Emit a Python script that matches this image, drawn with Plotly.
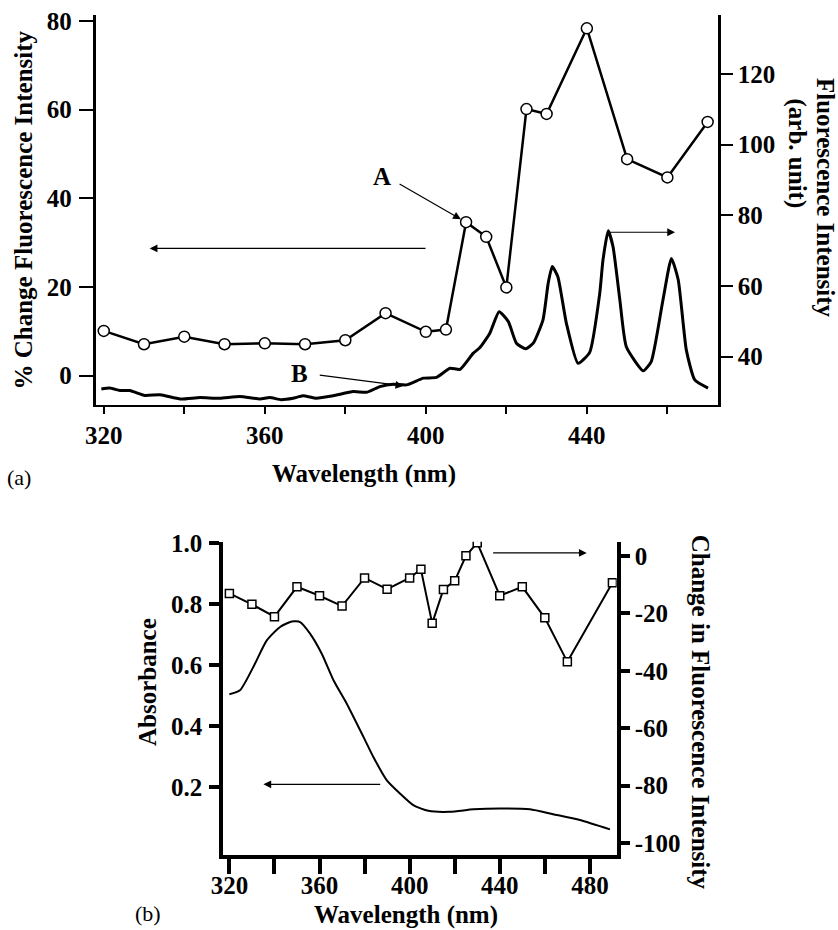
import plotly.graph_objects as go

# ---------------- data: panel (a) ----------------
a_wavelength = [320, 330, 340, 350, 360, 370, 380, 390, 400, 405, 410, 415, 420, 425, 430, 440, 450, 460, 470]
a_pct_change = [10.1, 7.1, 8.8, 7.1, 7.3, 7.1, 8.0, 14.1, 9.9, 10.4, 34.6, 31.3, 19.9, 60.1, 59.0, 78.3, 48.8, 44.7, 57.2]

b_wavelength = [319.4, 321.5, 324, 326.5, 330.2, 334, 339, 343.9, 348.8, 353.8, 358.8, 361.2, 364.1, 367,
                369.5, 372.8, 377, 382, 385.3, 388.6, 391.9, 395.2, 399.4, 402.6, 406, 408.5, 411.8, 413.4,
                415.9, 418.2, 420.5, 422.5, 424.8, 426.7, 429.1, 430.4, 431.4, 432.8, 434.9, 437.8, 440.7,
                443.2, 444.0, 445.3, 446.5, 448.2, 449.8, 454, 456, 458.9, 461, 462.7, 464.7, 466.8, 470.1]
b_fluor = [30.8, 31.1, 30.4, 30.4, 29.0, 29.2, 28.0, 28.4, 28.2, 28.7, 28.0, 28.4, 27.8, 28.2,
           28.9, 28.2, 28.9, 30.1, 29.9, 31.5, 32.2, 32.0, 33.9, 34.1, 36.7, 36.4, 41.0, 42.5,
           46.6, 52.7, 49.9, 43.8, 42.2, 43.8, 50.4, 60.8, 65.5, 62.6, 49.5, 38.1, 41.2,
           57.9, 67.3, 75.6, 71.1, 56.0, 42.8, 36.0, 38.6, 56.0, 67.8, 61.7, 41.9, 33.4, 31.1]

a_xticks = [320, 340, 360, 380, 400, 420, 440, 460]
a_xticklabels = ["320", "", "360", "", "400", "", "440", ""]
a_left_ticks = [0, 20, 40, 60, 80]
a_right_ticks = [40, 60, 80, 100, 120]

# ---------------- data: panel (b) ----------------
sq_wavelength = [320, 330, 340, 350, 360, 370, 380, 390, 400, 405, 410, 415, 420, 425, 430, 440, 450, 460, 470, 490]
sq_change = [-13.1, -16.9, -21.2, -10.8, -13.9, -17.5, -7.7, -11.6, -7.7, -4.7, -23.5, -11.7, -8.7, 0.0, 4.5,
             -13.9, -10.8, -21.6, -36.9, -9.4]

abs_wavelength = [320, 324.7, 330.6, 336.6, 342.5, 347.7, 351.4, 355.8, 361, 366.2, 372.1, 379.5, 383.9,
                  389.8, 395.7, 401.6, 408.3, 417.9, 428.3, 440, 453.4, 463.7, 475.6, 488.9]
absorbance = [0.504, 0.517, 0.593, 0.681, 0.725, 0.743, 0.741, 0.703, 0.637, 0.55, 0.473, 0.364, 0.298,
              0.222, 0.178, 0.140, 0.121, 0.118, 0.126, 0.129, 0.126, 0.110, 0.091, 0.060]

b_xticks = [320, 340, 360, 380, 400, 420, 440, 460, 480]
b_xticklabels = ["320", "", "360", "", "400", "", "440", "", "480"]
b_left_ticks = [0.2, 0.4, 0.6, 0.8, 1.0]
b_left_ticklabels = ["0.2", "0.4", "0.6", "0.8", "1.0"]
b_right_ticks = [-100, -80, -60, -40, -20, 0]
b_right_ticklabels = ["-100", "-80", "-60", "-40", "-20", "0"]

W, H = 838, 930
FONT = "Liberation Serif"


def px(x):
    return x / W


def py(y):
    return 1 - y / H


tickfont = dict(family=FONT, size=25, color="black", weight="bold")

fig = go.Figure()

# panel (a)
fig.add_trace(go.Scatter(x=a_wavelength, y=a_pct_change, mode="lines+markers",
                         line=dict(color="black", width=2.5),
                         marker=dict(symbol="circle", size=11, color="white",
                                     line=dict(color="black", width=1.5)),
                         xaxis="x", yaxis="y", showlegend=False))
fig.add_trace(go.Scatter(x=b_wavelength, y=b_fluor, mode="lines",
                         line=dict(color="black", width=3, shape="spline", smoothing=0.5),
                         xaxis="x", yaxis="y2", showlegend=False))

# panel (b)
fig.add_trace(go.Scatter(x=abs_wavelength, y=absorbance, mode="lines",
                         line=dict(color="black", width=2, shape="spline", smoothing=0.6),
                         xaxis="x2", yaxis="y3", showlegend=False))
fig.add_trace(go.Scatter(x=sq_wavelength, y=sq_change, mode="lines+markers",
                         line=dict(color="black", width=2),
                         marker=dict(symbol="square", size=8, color="white",
                                     line=dict(color="black", width=1.5)),
                         xaxis="x2", yaxis="y4", showlegend=False))

axis_common = dict(showgrid=False, zeroline=False, showline=True, linecolor="black",
                   ticks="outside", tickcolor="black", tickfont=tickfont, automargin=False)

fig.update_layout(
    width=W, height=H,
    margin=dict(l=0, r=0, t=0, b=0, autoexpand=False),
    paper_bgcolor="white", plot_bgcolor="white",
    xaxis=dict(domain=[px(95.7), px(717.7)], anchor="y", range=[318, 472.5],
               tickmode="array", tickvals=a_xticks, ticktext=a_xticklabels,
               ticklen=7, tickwidth=1.5, linewidth=2, ticklabelstandoff=0, **axis_common),
    yaxis=dict(domain=[py(405), py(15)], anchor="x", range=[-6.6, 81.3],
               tickmode="array", tickvals=a_left_ticks,
               ticklen=14, tickwidth=1.5, linewidth=3, ticklabelstandoff=2, **axis_common),
    yaxis2=dict(domain=[py(405), py(15)], anchor="x", overlaying="y", side="right",
                range=[26.3, 136.7], tickmode="array", tickvals=a_right_ticks,
                ticklen=12, tickwidth=2, linewidth=3, ticklabelstandoff=0, **axis_common),
    xaxis2=dict(domain=[px(223.3), px(616.7)], anchor="y3", range=[317.3, 491.9],
                tickmode="array", tickvals=b_xticks, ticktext=b_xticklabels,
                ticklen=15, tickwidth=4, linewidth=3.5, ticklabelstandoff=-10, **axis_common),
    yaxis3=dict(domain=[py(855), py(541.7)], anchor="x2", range=[-0.024, 1.005],
                tickmode="array", tickvals=b_left_ticks, ticktext=b_left_ticklabels,
                ticklen=10, tickwidth=3.5, linewidth=4, ticklabelstandoff=2, **axis_common),
    yaxis4=dict(domain=[py(855), py(541.7)], anchor="x2", overlaying="y3", side="right",
                range=[-104.1, 4.9], tickmode="array", tickvals=b_right_ticks,
                ticktext=b_right_ticklabels,
                ticklen=9, tickwidth=4, linewidth=4, ticklabelstandoff=0, **axis_common),
)

title_font = dict(family=FONT, size=25, color="black", weight="bold")
label_font = dict(family=FONT, size=22, color="black")

texts = [
    ("% Change Fluorescence Intensity", 22.5, 210, -90, title_font),
    ("Fluorescence Intensity", 826, 198, 90, title_font),
    ("(arb. unit)", 796.5, 153, 90, title_font),
    ("Wavelength (nm)", 364, 474, 0, title_font),
    ("(a)", 19, 477, 0, label_font),
    ("Absorbance", 147.5, 682.5, -90, title_font),
    ("Change in Fluorescence Intensity", 700, 711.7, 90, title_font),
    ("Wavelength (nm)", 405.6, 915, 0, title_font),
    ("(b)", 147.5, 913, 0, label_font),
]
for t, x, y, ang, f in texts:
    fig.add_annotation(text=t, x=px(x), y=py(y), xref="paper", yref="paper",
                       xanchor="center", yanchor="middle", textangle=ang,
                       showarrow=False, font=f)

# labels A and B
fig.add_annotation(text="A", x=389.2, y=45.0, xref="x", yref="y", showarrow=False,
                   font=title_font, xanchor="center", yanchor="middle")
fig.add_annotation(text="B", x=368.7, y=0.4, xref="x", yref="y", showarrow=False,
                   font=title_font, xanchor="center", yanchor="middle")

arrow_style = dict(showarrow=True, arrowhead=2, arrowsize=1.3, arrowwidth=1.2,
                   arrowcolor="black", text="")
# arrow A -> point at 410 nm
fig.add_annotation(x=a_wavelength[10], y=a_pct_change[10], xref="x", yref="y",
                   ax=-68, ay=-39, standoff=6, **arrow_style)
# arrow B -> curve
fig.add_annotation(x=394.4, y=31.7, xref="x", yref="y2", ax=-85, ay=-11, **arrow_style)
# axis-pointing arrows, panel (a)
fig.add_annotation(x=331.4, y=28.7, xref="x", yref="y", axref="x", ayref="y",
                   ax=400.3, ay=28.7, **arrow_style)
fig.add_annotation(x=461.9, y=75.2, xref="x", yref="y2", axref="x", ayref="y2",
                   ax=445.3, ay=75.2, **arrow_style)
# axis-pointing arrows, panel (b)
fig.add_annotation(x=335.1, y=0.208, xref="x2", yref="y3", axref="x2", ayref="y3",
                   ax=387.6, ay=0.208, **arrow_style)
fig.add_annotation(x=478.6, y=1.0, xref="x2", yref="y4", axref="x2", ayref="y4",
                   ax=436.4, ay=1.0, **arrow_style)

fig.write_html("out.html", config={"displayModeBar": False},
               post_script="document.body.style.margin='0px';document.body.style.overflow='hidden';")
